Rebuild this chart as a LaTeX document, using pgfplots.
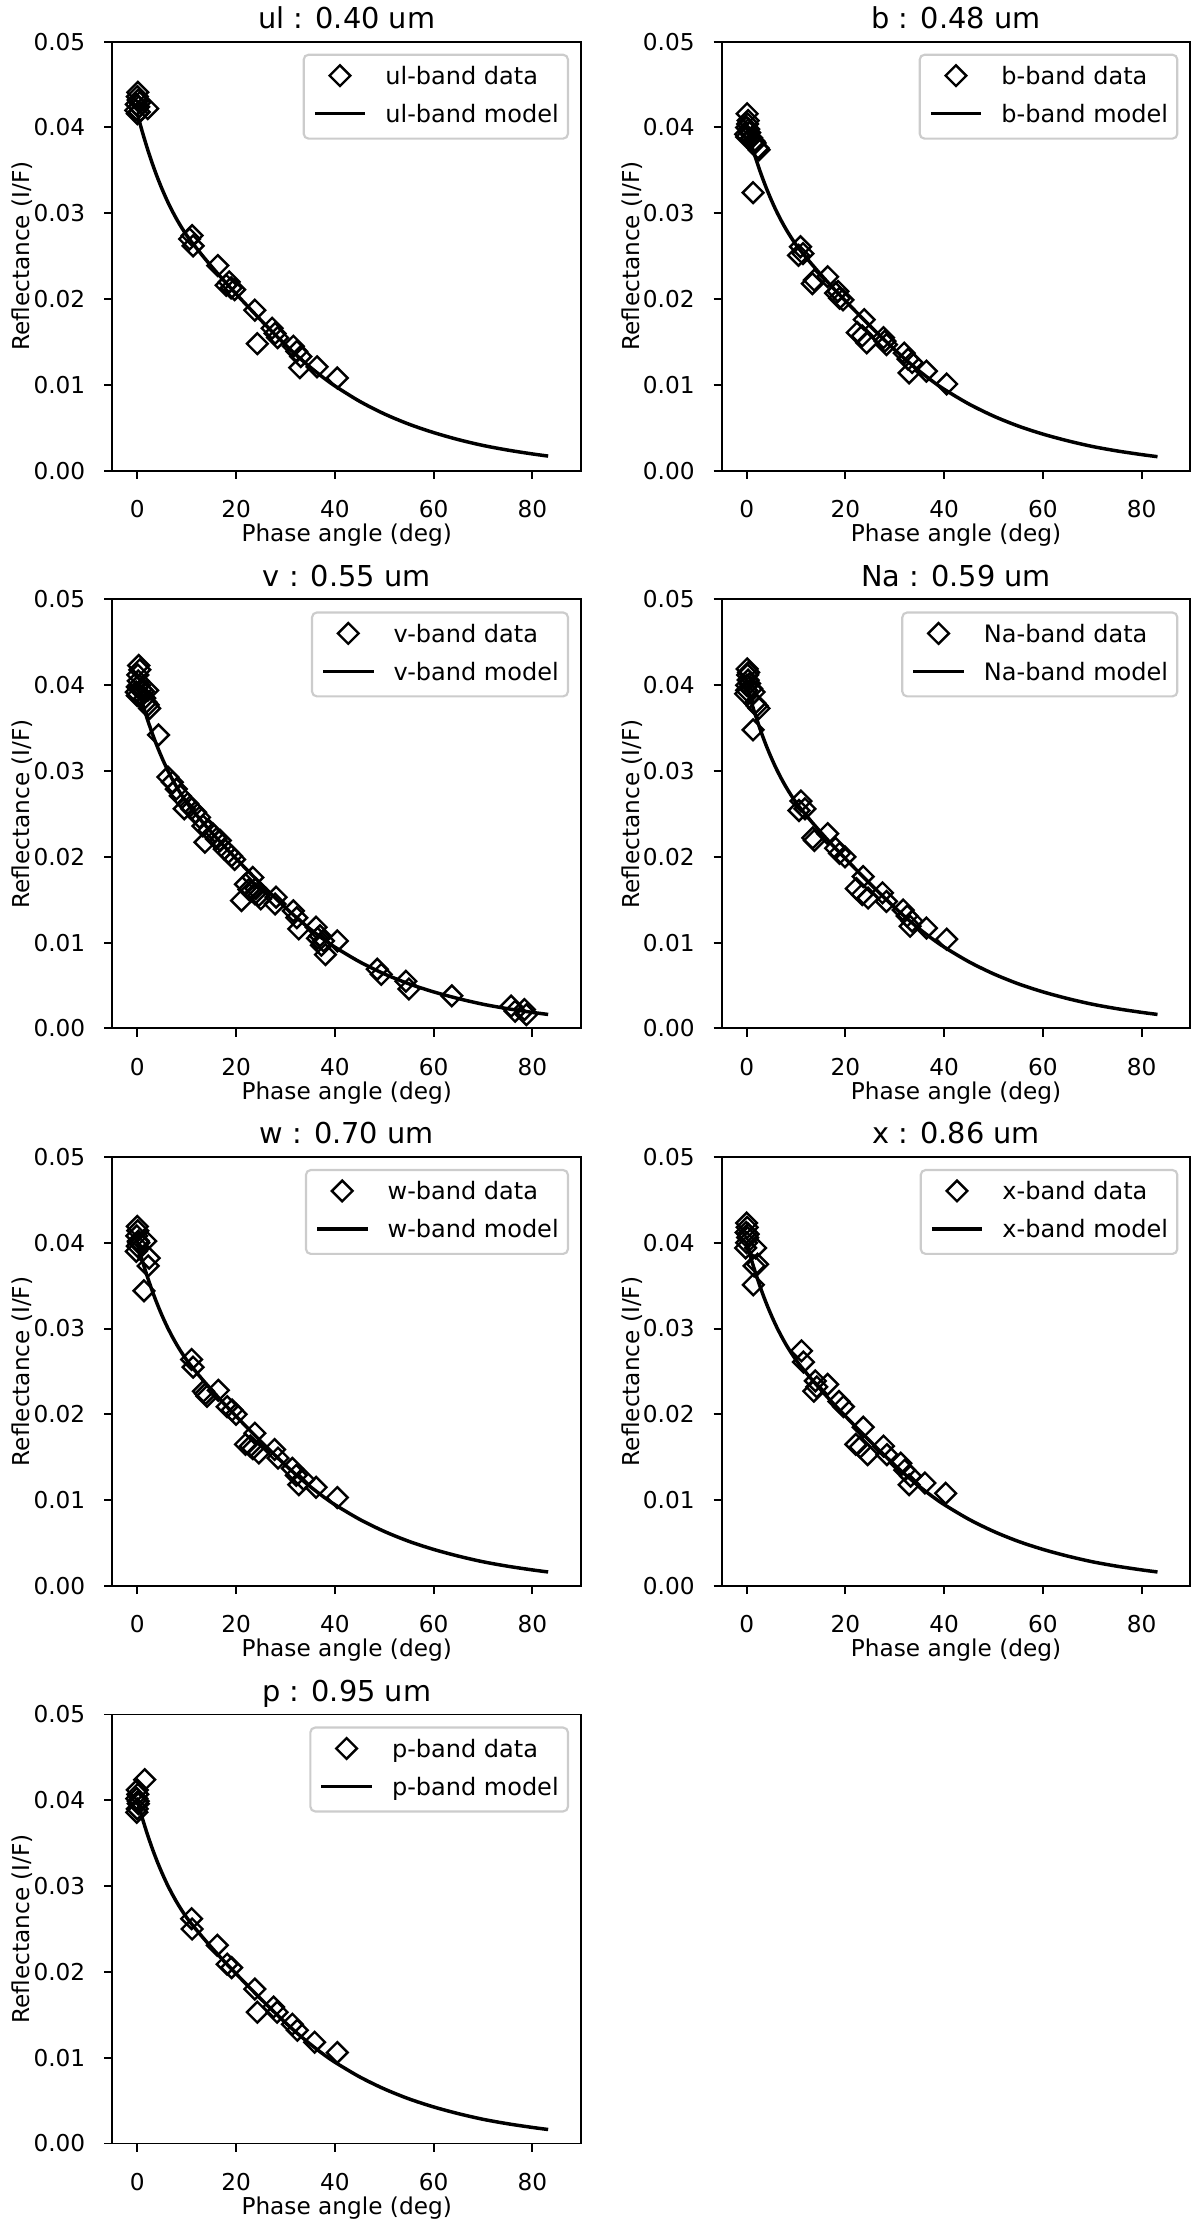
\documentclass[border=0pt]{standalone}
\usepackage{fontspec}
\setmainfont{DejaVu Sans}
\usepackage{pgfplots}
\usepackage{pgfplotstable}
\pgfplotsset{compat=1.18}

\newcommand{\fs}{\fontsize{9.67}{11.6}\selectfont}
\newcommand{\lfs}{\fontsize{10}{12}\selectfont}

\pgfplotstableread{
x y
0 0.04160
1 0.03952
2 0.03761
3 0.03586
4 0.03428
5 0.03284
6 0.03153
7 0.03035
8 0.02928
9 0.02831
10 0.02743
11 0.02665
13 0.02520
15 0.02382
17.5 0.02218
20 0.02061
22.5 0.01907
25 0.01756
27.5 0.01609
30 0.01467
32.5 0.01332
35 0.01207
37.5 0.01092
40 0.00988
45 0.00809
50 0.00662
55 0.00542
60 0.00444
65 0.00362
70 0.00294
75 0.00240
80 0.00195
83.2 0.00170
}\ulmodel

\pgfplotstableread{
x y
0 0.03994
1 0.03794
2 0.03611
3 0.03443
4 0.03291
5 0.03153
6 0.03027
7 0.02914
8 0.02811
9 0.02718
10 0.02633
11 0.02558
13 0.02419
15 0.02287
17.5 0.02129
20 0.01979
22.5 0.01831
25 0.01686
27.5 0.01545
30 0.01408
32.5 0.01279
35 0.01159
37.5 0.01048
40 0.00948
45 0.00777
50 0.00636
55 0.00520
60 0.00426
65 0.00348
70 0.00282
75 0.00230
80 0.00187
83.2 0.00163
}\stdmodel

\pgfplotsset{
 every axis title shift=0pt,
 legend image code/.code={\path (0pt,0pt) (21pt,0pt);
   \draw[sharp corners,mark repeat=2,mark phase=2,#1] plot coordinates {(0pt,1.0pt) (10.5pt,1.0pt) (21pt,1.0pt)};},
 panel/.style={
  scale only axis, width=195.3pt, height=178.75pt,
  xmin=-5.06, xmax=89.86, ymin=0, ymax=0.05,
  xtick={0,20,40,60,80}, ytick={0,0.01,0.02,0.03,0.04,0.05},
  scaled y ticks=false, scaled x ticks=false,
  /pgf/number format/assume math mode=true,
  yticklabel style={/pgf/number format/fixed, /pgf/number format/fixed zerofill, /pgf/number format/precision=2, anchor=east, inner sep=0pt, xshift=-7.7pt, font=\fs},
  xticklabel style={anchor=north, inner sep=0pt, yshift=-8.8pt, font=\fs},
  tick align=outside, tick pos=left, major tick length=3.4pt,
  tick style={black, line width=0.8pt},
  axis line style={line width=0.8pt},
  xlabel={Phase angle (deg)}, ylabel={Reflectance (I/F)},
  xlabel style={at={(axis description cs:0.5,0)}, anchor=base, yshift=-29.6pt, inner sep=0pt, font=\fs},
  ylabel style={at={([xshift=-34.3pt]axis description cs:0,0.5)}, anchor=base, inner sep=0pt, font=\fs},
  title style={at={(axis description cs:0.5,1)}, anchor=base, yshift=5.4pt, inner sep=0pt, font=\fontsize{12}{14}\selectfont},
  legend cell align=left,
  legend style={at={(axis description cs:1,1)}, anchor=north east, xshift=-5pt, yshift=-5pt, draw=black!20, fill=white, line width=0.9pt, rounded corners=2pt, inner xsep=3.87pt, inner ysep=4.4pt, row sep=5.9pt, column sep=7.7pt, font=\lfs, nodes={inner sep=0pt, text height=7.6pt, text depth=2.36pt}},
 },
 dat/.style={only marks, mark=square, mark size=3.05pt, mark options={rotate=45, draw=black, fill=none, line width=1pt, sharp corners}},
 mdl/.style={black, line width=1.45pt, mark=none, smooth, sharp corners},
}

\begin{document}
\begin{tikzpicture}
\useasboundingbox (0,0) rectangle (500pt,927.92pt);

% ul
\begin{axis}[panel, at={(46.8pt,731.8pt)}, anchor=south west, title={ul : 0.40 um}]
\addplot[dat] coordinates {
(-0.3,0.0420) (0,0.0436) (0.1,0.0441) (0.2,0.0432) (-0.2,0.0427) (0.3,0.0424) (0,0.0416) (0.4,0.0418) (0.5,0.0429) (2.1,0.0422)
(10.6,0.0270) (11.1,0.0274) (11.3,0.0262) (16.3,0.0239)
(18.0,0.0216) (18.6,0.0220) (19.0,0.0213) (19.7,0.0211)
(23.8,0.0187) (24.3,0.0148) (27.3,0.0166) (27.9,0.0160) (28.4,0.0155)
(31.6,0.0145) (32.3,0.0139) (33.1,0.0133) (32.9,0.0120) (36.4,0.0121) (40.5,0.0108)};
\addlegendentry{ul-band data}
\addplot[mdl] table {\ulmodel};
\addlegendentry{ul-band model}
\end{axis}

% b
\begin{axis}[panel, at={(300.7pt,731.8pt)}, anchor=south west, title={b : 0.48 um}]
\addplot[dat] coordinates {
(-0.2,0.0392) (0,0.0400) (0.1,0.0416) (0.3,0.0408) (0,0.0389) (0.4,0.0398) (0.2,0.0404) (0.6,0.0394) (1.0,0.0388) (1.5,0.0384) (1.7,0.0382) (2.3,0.0376) (2.5,0.0374) (1.3,0.0324)
(10.5,0.0251) (10.9,0.0261) (11.4,0.0253) (13.3,0.0218) (13.7,0.0222) (16.4,0.0226)
(18.0,0.0207) (18.8,0.0201) (19.5,0.0199) (18.5,0.0209)
(23.8,0.0176) (22.4,0.0161) (23.4,0.0157) (24.3,0.0149)
(27.7,0.0155) (28.3,0.0147) (28.0,0.0151)
(31.9,0.0137) (32.7,0.0130) (32.9,0.0114) (33.5,0.0126) (36.4,0.0116) (40.5,0.0101)};
\addlegendentry{b-band data}
\addplot[mdl] table {\stdmodel};
\addlegendentry{b-band model}
\end{axis}

% v
\begin{axis}[panel, at={(46.8pt,499.4pt)}, anchor=south west, title={v : 0.55 um}]
\addplot[dat] coordinates {
(-0.2,0.0392) (0,0.0398) (0.2,0.0405) (0.3,0.0423) (0.1,0.0412) (0.5,0.0418) (0.4,0.0400) (0.8,0.0395) (1.2,0.0393) (0,0.0388) (1.5,0.0385) (2.1,0.0394) (2.5,0.0373) (2.2,0.0377) (1.8,0.0380)
(4.3,0.0342) (6.2,0.0293) (7.1,0.0287) (7.9,0.0279) (8.7,0.0271) (9.5,0.0256) (10.2,0.0262) (11.0,0.0256) (11.8,0.0252) (12.6,0.0246)
(13.3,0.0236) (13.7,0.0217) (14.5,0.0231) (15.3,0.0227) (16.0,0.0221) (16.8,0.0219) (17.6,0.0209) (18.4,0.0205) (19.1,0.0201) (19.7,0.0197)
(21.1,0.0149) (21.9,0.0168) (22.6,0.0162) (23.0,0.0160) (23.4,0.0176) (23.8,0.0157) (24.0,0.0163) (24.6,0.0155) (25.0,0.0151)
(28.1,0.0153) (27.9,0.0145) (31.6,0.0137) (32.3,0.0129) (32.7,0.0116)
(36.2,0.0118) (36.5,0.0105) (37.0,0.0108) (37.3,0.0097) (37.7,0.0102) (38.1,0.0086) (40.5,0.0102)
(48.6,0.0069) (49.4,0.0063) (54.4,0.0055) (55.0,0.0046) (63.7,0.0038)
(75.7,0.0026) (76.5,0.0020) (78.4,0.0022) (78.8,0.0016)};
\addlegendentry{v-band data}
\addplot[mdl] table {\stdmodel};
\addlegendentry{v-band model}
\end{axis}

% Na
\begin{axis}[panel, at={(300.7pt,499.4pt)}, anchor=south west, title={Na : 0.59 um}]
\addplot[dat] coordinates {
(-0.2,0.0390) (0,0.0400) (0.1,0.0419) (0.2,0.0412) (0.3,0.0406) (0,0.0394) (0.4,0.0415) (0.6,0.0402) (1.0,0.0396) (1.5,0.0392) (1.7,0.0379) (2.5,0.0373) (2.1,0.0376) (1.3,0.0348)
(10.6,0.0254) (11.0,0.0265) (11.8,0.0256) (13.7,0.0219) (13.4,0.0222) (16.4,0.0227)
(18.0,0.0210) (18.8,0.0204) (19.9,0.0200)
(23.6,0.0177) (22.2,0.0163) (23.4,0.0156) (24.6,0.0152)
(27.5,0.0158) (28.3,0.0148)
(31.7,0.0138) (32.5,0.0131) (33.1,0.0119) (33.5,0.0125) (36.4,0.0117) (40.5,0.0104)};
\addlegendentry{Na-band data}
\addplot[mdl] table {\stdmodel};
\addlegendentry{Na-band model}
\end{axis}

% w
\begin{axis}[panel, at={(46.8pt,267.1pt)}, anchor=south west, title={w : 0.70 um}]
\addplot[dat] coordinates {
(0,0.0419) (0.1,0.0414) (-0.1,0.0408) (0.2,0.0402) (0,0.0396) (-0.2,0.0390) (0.3,0.0400) (1.7,0.0402) (2.4,0.0382) (2.2,0.0373) (1.35,0.0344)
(11.0,0.0264) (11.3,0.0255) (13.4,0.0227) (13.8,0.0224) (14.1,0.0221) (16.4,0.0228)
(18.2,0.0209) (19.2,0.0205) (20.0,0.0200)
(23.8,0.0178) (21.9,0.0165) (22.9,0.0163) (24.6,0.0155) (23.4,0.0160)
(27.8,0.0159) (28.5,0.0149)
(31.4,0.0137) (32.2,0.0129) (32.7,0.0118) (33.7,0.0124) (36.2,0.0115) (40.5,0.0103)};
\addlegendentry{w-band data}
\addplot[mdl] table {\stdmodel};
\addlegendentry{w-band model}
\end{axis}

% x
\begin{axis}[panel, at={(300.7pt,267.1pt)}, anchor=south west, title={x : 0.86 um}]
\addplot[dat] coordinates {
(0,0.0423) (0.1,0.0418) (-0.1,0.0412) (0.2,0.0406) (0,0.0400) (-0.2,0.0394) (0.3,0.0410) (1.8,0.0394) (2.2,0.0375) (1.5,0.0373) (1.35,0.0351)
(11.1,0.0274) (11.5,0.0261) (13.9,0.0239) (13.6,0.0227) (14.2,0.0232) (16.4,0.0235)
(18.7,0.0215) (19.6,0.0209)
(23.6,0.0185) (22.1,0.0165) (23.0,0.0162) (24.5,0.0153)
(27.7,0.0163) (28.4,0.0153)
(31.2,0.0143) (32.0,0.0135) (32.9,0.0118) (33.2,0.0128) (36.1,0.0120) (40.3,0.0108)};
\addlegendentry{x-band data}
\addplot[mdl] table {\stdmodel};
\addlegendentry{x-band model}
\end{axis}

% p
\begin{axis}[panel, at={(46.8pt,34.8pt)}, anchor=south west, title={p : 0.95 um}]
\addplot[dat] coordinates {
(0,0.0412) (0.1,0.0407) (-0.1,0.0402) (0.2,0.0396) (0,0.0390) (-0.1,0.0386) (0.2,0.0399) (1.5,0.0424)
(11.0,0.0262) (11.1,0.0250) (16.2,0.0231) (18.2,0.0209) (19.1,0.0205)
(23.8,0.0180) (24.3,0.0153) (27.6,0.0159) (28.3,0.0153)
(31.4,0.0139) (32.4,0.0132) (35.9,0.0118) (40.5,0.0106)};
\addlegendentry{p-band data}
\addplot[mdl] table {\stdmodel};
\addlegendentry{p-band model}
\end{axis}

\end{tikzpicture}
\end{document}
